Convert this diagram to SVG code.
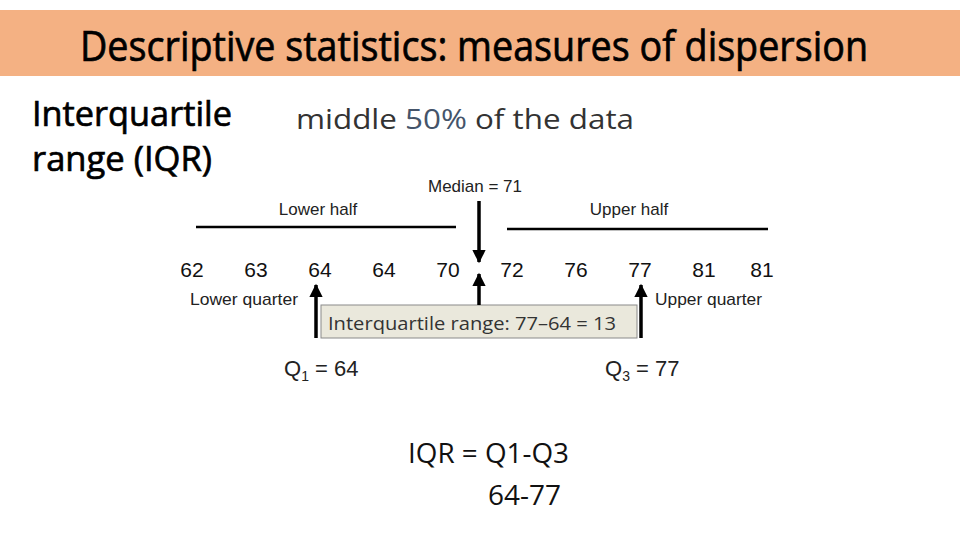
<svg xmlns="http://www.w3.org/2000/svg" width="960" height="540" viewBox="0 0 960 540">
<style>
.cond{font-family:"Open Sans","Noto Sans",sans-serif;fill:#000;stroke:#000;stroke-width:0.7}
.ar{font-family:"Liberation Sans",Arial,sans-serif;fill:#222}
.num{font-family:"Liberation Sans",Arial,sans-serif;font-size:21px;fill:#111;text-anchor:middle}
.sm{font-family:"Liberation Sans",Arial,sans-serif;font-size:17px;fill:#222}
.ln{stroke:#000;stroke-width:2.5}
.arw{stroke:#000;stroke-width:3.5;fill:none}
</style>
<defs>
<marker id="ah" viewBox="0 0 10 10" refX="9" refY="5" markerWidth="4" markerHeight="3.8" orient="auto" markerUnits="strokeWidth">
<path d="M0,0 L10,5 L0,10 z" fill="#000"/>
</marker>
</defs>
<rect width="960" height="540" fill="#fff"/>
<g id="title">
<rect x="0" y="10" width="960" height="66" fill="#F4B183"/>
<text class="cond" x="80" y="61" font-size="42" textLength="788" lengthAdjust="spacingAndGlyphs">Descriptive statistics: measures of dispersion</text>
</g>
<g id="heading">
<text class="cond" x="32" y="126" font-size="35" textLength="200" lengthAdjust="spacingAndGlyphs">Interquartile</text>
<text class="cond" x="32" y="171" font-size="35" textLength="180" lengthAdjust="spacingAndGlyphs">range (IQR)</text>
</g>
<g id="subtitle">
<text x="296" y="129" font-family="'Open Sans','Noto Sans',sans-serif" font-size="27" fill="#333" textLength="338" lengthAdjust="spacingAndGlyphs">middle <tspan fill="#44546A">50%</tspan> of the data</text>
</g>
<g id="median-label"><text class="sm" x="475" y="192" text-anchor="middle">Median = 71</text></g>
<g id="lower-half">
<text class="sm" x="318" y="215" text-anchor="middle">Lower half</text>
<line class="ln" x1="196" y1="227" x2="456" y2="227"/>
</g>
<g id="upper-half">
<text class="sm" x="629" y="215" text-anchor="middle">Upper half</text>
<line class="ln" x1="507" y1="229" x2="768" y2="229"/>
</g>
<g id="data">
<text class="num" x="192" y="277">62</text>
<text class="num" x="256" y="277">63</text>
<text class="num" x="320" y="277">64</text>
<text class="num" x="384" y="277">64</text>
<text class="num" x="448" y="277">70</text>
<text class="num" x="512" y="277">72</text>
<text class="num" x="576" y="277">76</text>
<text class="num" x="640" y="277">77</text>
<text class="num" x="704" y="277">81</text>
<text class="num" x="762" y="277">81</text>
</g>
<g id="lower-quarter"><text class="sm" x="190" y="305" textLength="108" lengthAdjust="spacingAndGlyphs">Lower quarter</text></g>
<g id="upper-quarter"><text class="sm" x="655" y="305" textLength="107" lengthAdjust="spacingAndGlyphs">Upper quarter</text></g>
<g id="iqr-box">
<rect x="321" y="305" width="316" height="33" fill="#EAE8DC" stroke="#8a8a8a" stroke-width="1"/>
<text x="328" y="330" font-family="'Open Sans','Noto Sans',sans-serif" font-size="19" fill="#333" textLength="288" lengthAdjust="spacingAndGlyphs">Interquartile range: 77–64 = 13</text>
</g>
<g id="connectors">
<line class="arw" x1="479" y1="201" x2="479" y2="262" marker-end="url(#ah)"/>
<line class="arw" x1="479" y1="305" x2="479" y2="274" marker-end="url(#ah)"/>
<line class="arw" x1="316" y1="338" x2="316" y2="285" marker-end="url(#ah)"/>
<line class="arw" x1="641" y1="338" x2="641" y2="285" marker-end="url(#ah)"/>
</g>
<g id="q1"><text class="ar" x="284" y="376" font-size="22">Q<tspan font-size="14" dy="5">1</tspan><tspan dy="-5"> = 64</tspan></text></g>
<g id="q3"><text class="ar" x="605" y="376" font-size="22">Q<tspan font-size="14" dy="5">3</tspan><tspan dy="-5"> = 77</tspan></text></g>
<g id="formula">
<text x="408" y="463" font-family="'Open Sans','Noto Sans',sans-serif" font-size="27" fill="#111" textLength="161" lengthAdjust="spacingAndGlyphs">IQR = Q1-Q3</text>
<text x="488" y="505" font-family="'Open Sans','Noto Sans',sans-serif" font-size="27" fill="#111" textLength="73" lengthAdjust="spacingAndGlyphs">64-77</text>
</g>
</svg>
